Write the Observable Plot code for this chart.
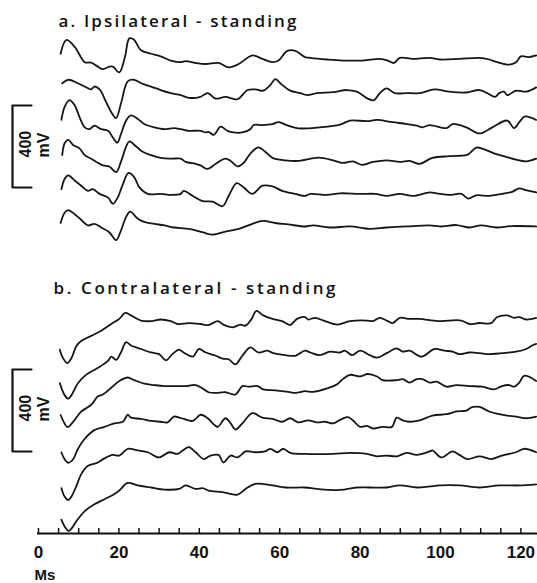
<!DOCTYPE html>
<html><head><meta charset="utf-8">
<script src="https://cdn.jsdelivr.net/npm/d3@7"></script>
<script src="https://cdn.jsdelivr.net/npm/@observablehq/plot@0.6"></script>
<style>
body{margin:0;background:#fff;}
#chart svg{display:block;background:#fff;}
</style></head><body><div id="chart"></div>
<script>
// ---- data (time in ms, amplitude in mV relative to each trace's resting level) ----
const panelTitles = ["a. Ipsilateral - standing", "b. Contralateral - standing"];
const timeTicks = [0, 20, 40, 60, 80, 100, 120];
const minorTicks = [0, 5, 10, 15, 20, 25, 30, 35, 40, 45, 50, 55, 60, 65, 70, 75, 80, 85, 90, 95, 100, 105, 110, 115, 120];
const axisLabel = "Ms";
const scaleBarMV = 400;
const scaleBarLabel = "400\nmV";

const a1 = [[5.5,28],[6.9,95],[9.0,62],[11.5,-13],[13.1,-15],[14.4,-30],[16.0,-47],[17.6,-35],[18.5,-35],[20.1,-63],[21.5,12],[22.6,103],[23.7,98],[25.5,45],[28.0,28],[30.4,15],[32.9,-5],[35.4,-13],[36.6,-8],[39.1,-17],[41.6,-22],[44.8,-17],[47.3,-38],[49.8,-22],[53.2,20],[55.7,3],[58.2,-13],[59.7,-5],[61.9,42],[63.9,42],[66.3,12],[67.6,8],[71.8,0],[75.7,-5],[80.7,-5],[84.9,3],[86.9,-5],[88.4,-17],[89.9,8],[93.1,3],[97.3,8],[99.8,0],[104.7,3],[109.7,8],[112.1,0],[114.1,-13],[117.1,-25],[118.8,-13],[120.0,15],[122.0,12],[123.8,20]];
const a2 = [[5.9,48],[7.4,65],[9.8,48],[11.9,28],[13.1,18],[13.9,32],[15.2,18],[16.8,-43],[18.1,-93],[19.3,-122],[20.5,-52],[22.2,57],[23.8,65],[25.5,48],[28.0,32],[30.4,15],[32.9,0],[35.4,-10],[37.4,-23],[40.3,-18],[42.1,0],[44.1,-27],[46.5,-18],[49.5,-30],[52.0,15],[54.0,18],[55.9,12],[57.7,40],[58.9,68],[60.6,40],[62.6,12],[65.1,0],[66.8,-10],[69.3,0],[73.3,5],[76.7,15],[79.2,7],[81.9,-27],[83.4,-35],[84.9,0],[86.6,23],[88.6,0],[91.6,0],[94.8,0],[98.5,18],[102.2,7],[106.4,3],[109.7,15],[111.6,0],[113.6,-18],[114.6,0],[115.8,7],[116.6,-10],[118.8,12],[121.3,7],[123.8,28]];
const a3 = [[5.7,33],[6.5,97],[7.7,130],[9.0,105],[10.2,47],[11.5,-3],[12.7,-12],[13.9,5],[15.6,-12],[17.3,-20],[18.5,-53],[19.6,-78],[20.5,-37],[21.8,30],[23.0,55],[24.7,38],[26.3,13],[28.8,-3],[31.3,-12],[33.7,-7],[35.4,-12],[37.4,-20],[40.3,-20],[41.6,-28],[42.3,-25],[43.6,-40],[45.3,0],[47.0,-20],[48.5,-28],[50.7,-28],[52.7,-12],[53.5,8],[55.7,8],[58.2,13],[59.7,22],[62.1,5],[64.6,-8],[70.0,-3],[75.0,10],[77.5,30],[81.7,27],[84.2,33],[88.1,22],[91.6,13],[94.1,5],[95.5,-3],[97.3,8],[101.5,-7],[103.0,13],[106.4,-3],[109.7,-33],[112.9,-3],[116.6,30],[118.3,-7],[119.6,22],[121.0,50],[123.8,33]];
const a4 = [[5.9,25],[6.5,83],[7.4,100],[8.6,75],[10.2,58],[11.5,25],[13.1,8],[14.4,-8],[16.0,-25],[17.6,-30],[19.3,-58],[20.5,-8],[21.8,67],[22.6,92],[24.3,67],[25.9,42],[28.0,25],[30.4,12],[32.9,8],[35.4,8],[36.6,-8],[39.1,-17],[40.3,-25],[42.1,-42],[44.1,-17],[46.5,8],[47.8,-3],[49.5,-30],[51.0,-13],[52.7,33],[54.7,63],[56.4,42],[58.2,12],[61.4,0],[64.6,-3],[69.6,13],[73.3,0],[75.7,-13],[78.2,-5],[80.4,-22],[83.2,-8],[86.6,0],[89.9,-8],[92.3,-3],[94.8,-17],[98.0,12],[102.2,20],[106.4,25],[107.2,33],[108.9,62],[110.9,53],[113.9,30],[116.3,17],[118.8,3],[121.3,-5],[123.8,8]];
const a5 = [[5.7,23],[6.5,73],[7.4,90],[9.0,65],[10.6,40],[12.3,15],[13.5,23],[15.2,0],[17.3,-18],[18.5,-48],[19.7,-18],[21.0,48],[22.4,102],[23.8,82],[25.1,32],[27.2,0],[30.4,0],[32.9,-5],[35.4,0],[36.1,15],[38.4,-10],[40.8,-35],[43.3,-38],[45.8,-60],[47.3,-10],[49.3,52],[51.0,32],[53.2,0],[55.7,40],[58.2,37],[60.6,15],[63.9,0],[66.3,-10],[67.6,0],[71.8,-5],[75.0,3],[80.0,0],[83.7,0],[86.6,-10],[89.9,0],[93.1,-10],[97.3,7],[99.0,3],[102.2,-5],[105.2,0],[106.9,-23],[108.9,-7],[112.1,-10],[115.3,0],[117.8,10],[119.6,27],[121.3,18],[123.8,7]];
const a6 = [[5.5,22],[6.5,72],[7.4,85],[9.0,65],[10.6,38],[12.3,10],[13.9,18],[15.6,0],[17.6,-23],[19.3,-62],[20.5,-15],[21.8,52],[22.8,77],[24.7,43],[26.3,27],[28.8,18],[31.3,10],[33.7,0],[37.4,-7],[40.8,-23],[43.3,-35],[46.5,-20],[49.8,-7],[53.2,18],[55.9,32],[58.9,22],[62.1,15],[66.3,5],[68.3,10],[72.5,0],[77.5,5],[82.4,-7],[86.6,0],[91.6,5],[97.3,10],[99.8,5],[104.0,12],[107.2,0],[110.1,10],[113.9,0],[117.8,7],[123.8,5]];

const b1 = [[5.3,-147],[6.1,-188],[7.2,-213],[8.2,-188],[9.4,-130],[10.6,-105],[13.1,-80],[15.6,-55],[18.1,-22],[20.1,3],[21.6,32],[23.0,20],[25.5,-5],[28.0,-8],[30.4,0],[32.9,-8],[34.6,-22],[37.4,-18],[40.3,-22],[42.3,-27],[44.6,-8],[46.0,-25],[48.3,-38],[50.2,-25],[51.5,-30],[53.0,3],[54.2,42],[55.9,20],[58.2,3],[60.6,-8],[62.6,-27],[64.3,3],[66.3,12],[67.1,0],[68.8,8],[71.3,-8],[74.3,-25],[77.5,-8],[81.7,-5],[83.2,-8],[84.9,8],[86.9,-8],[88.1,-18],[89.9,8],[92.3,3],[94.8,3],[99.3,-8],[102.2,-5],[105.2,-5],[107.2,-22],[109.7,-17],[112.6,-18],[114.1,12],[116.6,20],[118.3,8],[119.6,12],[121.3,0],[123.8,8]];
const b2 = [[5.3,-147],[6.5,-205],[7.4,-222],[8.2,-205],[9.8,-147],[11.9,-105],[14.8,-72],[17.3,-38],[18.1,-17],[19.3,-33],[20.5,3],[21.8,53],[23.0,37],[25.5,20],[28.0,3],[30.0,-5],[31.7,-35],[33.3,-5],[35.0,17],[36.1,3],[38.4,-17],[39.9,20],[41.6,3],[44.1,-13],[45.8,-27],[47.3,-30],[49.0,-55],[50.7,-13],[52.7,28],[54.7,3],[56.9,12],[58.4,0],[61.4,-10],[63.9,-13],[66.3,12],[67.6,3],[70.0,-10],[72.5,7],[75.0,3],[76.2,12],[78.0,-10],[80.0,12],[82.4,-10],[84.2,-22],[86.6,0],[89.1,23],[90.6,7],[92.3,12],[95.3,-17],[98.5,20],[101.0,12],[103.0,7],[104.7,-5],[107.2,3],[109.7,0],[112.1,-5],[115.3,0],[118.8,7],[121.3,20],[122.8,37],[123.8,45]];
const b3 = [[5.5,-138],[6.5,-180],[7.2,-197],[8.6,-172],[10.6,-122],[13.1,-88],[14.8,-47],[16.0,-38],[18.1,-5],[20.1,28],[22.2,45],[23.8,32],[26.3,15],[28.8,8],[31.3,3],[35.0,3],[36.6,3],[39.1,8],[40.8,-8],[42.3,-27],[44.1,-30],[46.5,-27],[49.0,-38],[50.7,3],[52.2,0],[54.5,3],[55.9,-13],[58.9,-18],[62.1,-25],[63.9,-30],[66.3,-22],[68.3,-25],[71.8,-8],[74.3,12],[75.7,37],[77.5,58],[80.0,50],[81.9,62],[84.2,50],[85.6,32],[89.1,32],[90.6,37],[92.3,20],[94.1,37],[95.5,37],[97.3,20],[99.0,25],[101.5,0],[104.0,8],[107.2,3],[110.4,0],[113.4,-13],[115.3,3],[117.1,8],[118.3,0],[119.6,20],[120.8,53],[123.8,28]];
const b4 = [[5.7,-157],[6.5,-190],[7.4,-207],[8.6,-190],[9.8,-140],[11.5,-90],[13.9,-48],[16.4,-32],[18.9,-15],[21.0,-7],[22.2,27],[23.0,13],[25.5,7],[28.0,-3],[30.4,-7],[32.1,-10],[33.7,18],[35.0,13],[36.1,7],[38.4,-3],[40.3,27],[42.1,10],[43.6,-20],[44.6,-32],[46.5,10],[47.8,-15],[49.0,-45],[50.7,-15],[53.2,35],[55.7,13],[58.2,7],[60.6,-7],[62.6,10],[64.6,-10],[67.1,0],[69.3,-10],[71.3,-7],[73.3,-15],[75.5,7],[77.0,15],[78.2,0],[80.0,-32],[81.7,-27],[83.2,-40],[85.6,-32],[87.9,-32],[89.1,13],[90.6,0],[92.3,-7],[94.8,0],[98.0,23],[101.5,30],[104.0,43],[106.4,47],[107.7,63],[109.7,65],[112.1,43],[114.6,30],[116.6,23],[118.8,18],[121.3,10],[123.8,18]];
const b5 = [[5.7,-167],[6.5,-208],[7.4,-225],[8.2,-208],[9.4,-158],[10.6,-100],[12.3,-58],[14.8,-42],[16.4,-22],[18.5,-5],[20.1,-8],[22.2,25],[24.7,17],[27.2,8],[30.0,-17],[32.5,8],[34.6,0],[35.9,17],[37.4,33],[39.1,8],[41.1,-25],[42.8,-8],[44.8,-5],[46.0,-42],[47.8,-8],[49.5,-17],[51.5,12],[53.9,8],[56.4,12],[57.7,25],[59.4,8],[60.9,25],[62.6,5],[66.3,0],[73.3,0],[77.5,5],[81.7,0],[84.2,-12],[86.6,-8],[89.1,-12],[91.6,5],[94.1,-5],[97.3,12],[98.0,17],[100.2,-17],[103.0,12],[104.7,-5],[106.7,-25],[109.7,-12],[112.6,-25],[115.3,-8],[118.8,8],[120.8,25],[123.8,8]];
const b6 = [[5.7,-157],[6.5,-190],[7.5,-212],[8.3,-198],[9.4,-165],[11.5,-115],[13.9,-82],[16.4,-57],[18.9,-32],[20.1,-15],[22.2,22],[24.7,10],[28.0,0],[31.3,-10],[35.0,-7],[36.6,10],[39.1,-7],[40.8,-3],[42.3,-15],[45.8,-23],[49.5,-35],[51.5,-7],[53.9,18],[58.2,10],[61.4,0],[66.3,0],[69.3,-7],[75.0,-12],[79.2,0],[82.4,0],[86.6,0],[89.9,10],[94.1,0],[97.3,5],[99.8,10],[104.7,10],[109.7,0],[114.6,10],[119.6,10],[123.8,15]];

// ---- layout (pixels) ----
const W = 537, H = 583, ML = 38, MB = 50;
const PLOT_H = H - MB;                 // 533
const Y_SPAN_MV = 2600;                // mV covered by the plot area height
const PX = PLOT_H / Y_SPAN_MV;         // px per mV
const layout = {
  a: {firstTracePx: 59, barBottomPx: 187, titleDx: 20, titleDy: 14},
  b: {firstTracePx: 319, barBottomPx: 451, titleDx: 15, titleDy: 281},
  traceGapPx: 33.6
};
const level = px => -px / PX;          // pixel row -> mV coordinate

const panels = [
  {id: "a", title: panelTitles[0], traces: [a1, a2, a3, a4, a5, a6]},
  {id: "b", title: panelTitles[1], traces: [b1, b2, b3, b4, b5, b6]}
];

const rows = [];
for (const p of panels) {
  p.traces.forEach((tr, i) => {
    const base = level(layout[p.id].firstTracePx + i * layout.traceGapPx);
    for (const [t, v] of tr) rows.push({t, y: base + v, key: p.id + i});
  });
}

const barX = -6.47, barTickX = -1.74, barTextX = -5.1;
const bracketRows = [];
const barTexts = [];
for (const p of panels) {
  const bottom = level(layout[p.id].barBottomPx);
  const top = bottom + scaleBarMV;
  bracketRows.push({x: barTickX, y: top, k: p.id}, {x: barX, y: top, k: p.id},
                   {x: barX, y: bottom, k: p.id}, {x: barTickX, y: bottom, k: p.id});
  barTexts.push({x: barTextX, y: bottom + 30 / PX, text: scaleBarLabel});
}
const axisMV = -Y_SPAN_MV;

const chart = Plot.plot({
  width: W, height: H,
  marginLeft: ML, marginRight: 0, marginTop: 0, marginBottom: MB,
  x: {domain: [0, (W - ML) / 4.02]},
  y: {domain: [-Y_SPAN_MV, 0], axis: null},
  style: {fontFamily: "'Liberation Sans', Arial, sans-serif", color: "#111", background: "#fff"},
  marks: [
    Plot.line(rows, {x: "t", y: "y", z: "key", stroke: "#161616", strokeWidth: 1.8, curve: "catmull-rom"}),
    Plot.line(bracketRows, {x: "x", y: "y", z: "k", stroke: "#111", strokeWidth: 2.2}),
    Plot.text(barTexts, {x: "x", y: "y", text: "text", rotate: -90, textAnchor: "start", lineAnchor: "top",
      fontSize: 16, fontWeight: "bold", lineHeight: 1.15, fill: "#111"}),
    Plot.ruleY([axisMV], {x1: -0.25, x2: (W - ML) / 4.02, stroke: "#111", strokeWidth: 2}),
    Plot.ruleX(minorTicks, {y1: axisMV, y2: axisMV + 5 / PX, stroke: "#111", strokeWidth: 1.5}),
    Plot.axisX(timeTicks, {tickSize: 0, tickPadding: 12, fontSize: 17, fontWeight: "bold", label: null}),
    Plot.text([axisLabel], {frameAnchor: "bottom-left", dx: -4, dy: 36, textAnchor: "start", lineAnchor: "top",
      fontSize: 15, fontWeight: "bold", fill: "#111"}),
    ...panels.map(p => Plot.text([p.title], {frameAnchor: "top-left", dx: layout[p.id].titleDx, dy: layout[p.id].titleDy,
      textAnchor: "start", lineAnchor: "top", fontSize: 17, fontWeight: 600, fontFamily: "'Open Sans', 'DejaVu Sans', sans-serif", fill: "#111"}))
  ]
});
document.getElementById("chart").appendChild(chart);
// stretch titles to the printed widths
const titleWidths = {[panelTitles[0]]: 238, [panelTitles[1]]: 282};
d3.select(chart).selectAll("text").each(function () {
  const w = titleWidths[this.textContent];
  if (w) d3.select(this).attr("textLength", w).attr("lengthAdjust", "spacing");
});
</script></body></html>
